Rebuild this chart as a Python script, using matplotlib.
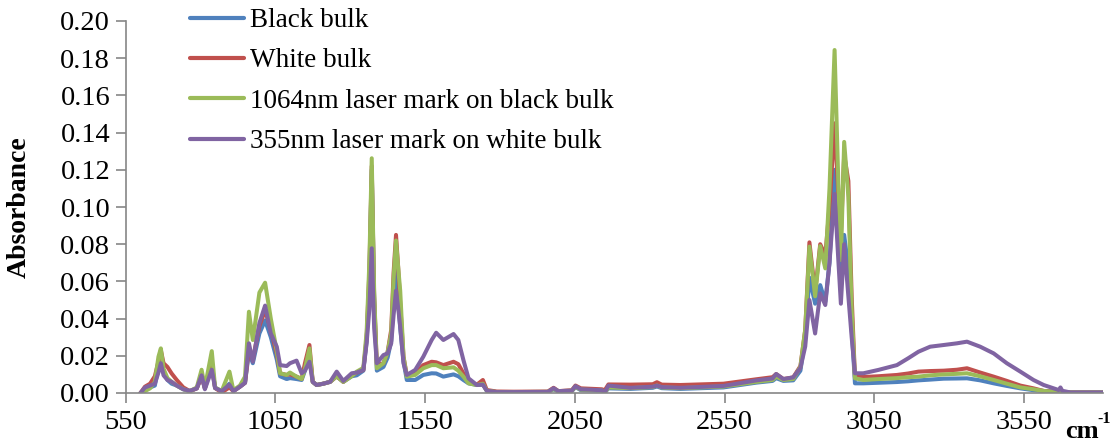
import matplotlib
matplotlib.use("Agg")
import matplotlib.pyplot as plt
from matplotlib.ticker import MultipleLocator, FormatStrFormatter

# FTIR absorbance spectra
wavenumber = [
    600, 615, 632, 648, 660, 668, 677, 690, 704, 721, 743, 765, 788, 804, 815, 838, 849, 871, 897, 910,
    932, 949, 962, 975, 997, 1016, 1035, 1055, 1066, 1088, 1099, 1121, 1138, 1149, 1164, 1175, 1188, 1210,
    1233, 1255, 1277, 1305, 1322, 1344, 1355, 1364, 1372, 1380, 1389, 1411, 1425, 1437, 1445, 1453, 1460,
    1467, 1478, 1489, 1517, 1544, 1572, 1587, 1611, 1645, 1661, 1678, 1695, 1723, 1743, 1756, 1789, 1845,
    1960, 1979, 1995, 2040, 2052, 2070, 2140, 2150, 2162, 2235, 2310, 2324, 2340, 2402, 2546, 2657, 2710,
    2722, 2746, 2779, 2803, 2819, 2833, 2852, 2869, 2886, 2900, 2917, 2930, 2938, 2949, 2963, 2974, 2985,
    3013, 3063, 3125, 3163, 3197, 3236, 3281, 3325, 3359, 3403, 3448, 3492, 3537, 3581, 3615, 3665, 3671,
    3677, 3704, 3813,
]

black_bulk = [
    0, 0.002, 0.003, 0.004, 0.014, 0.022, 0.011, 0.007, 0.005, 0.004, 0.002, 0.001, 0.0025, 0.009, 0.0025,
    0.0155, 0.0027, 0.001, 0.005, 0.001, 0.0034, 0.0055, 0.022, 0.016, 0.032, 0.039, 0.030, 0.018, 0.009,
    0.0075, 0.008, 0.0075, 0.007, 0.012, 0.021, 0.006, 0.0043, 0.005, 0.006, 0.009, 0.006, 0.009, 0.0095,
    0.012, 0.028, 0.060, 0.120, 0.050, 0.012, 0.014, 0.019, 0.028, 0.050, 0.066, 0.050, 0.035, 0.017, 0.007,
    0.007, 0.0097, 0.0106, 0.0105, 0.0088, 0.010, 0.009, 0.007, 0.0052, 0.0043, 0.0045, 0.0012, 0.0005,
    0.0004, 0.0005, 0.002, 0.0008, 0.001, 0.0032, 0.0015, 0.0012, 0.0003, 0.0025, 0.0022, 0.0028, 0.0035,
    0.0026, 0.0022, 0.0030, 0.0056, 0.0065, 0.008, 0.0065, 0.0068, 0.012, 0.030, 0.062, 0.048, 0.058, 0.049,
    0.070, 0.120, 0.085, 0.065, 0.085, 0.067, 0.035, 0.0052,
    0.0052, 0.0055, 0.0059, 0.0063, 0.0068, 0.0072, 0.0077, 0.0078, 0.0079, 0.0068, 0.0052, 0.0038, 0.0025,
    0.0015, 0.0011, 0.0005, 0.0005, 0.0005, 0.0003, 0.0003,
]

white_bulk = [
    0, 0.0034, 0.005, 0.009, 0.017, 0.023, 0.016, 0.014, 0.0105, 0.007, 0.003, 0.001, 0.0025, 0.009, 0.0025,
    0.015, 0.0027, 0.0003, 0.003, 0.001, 0.0034, 0.0055, 0.024, 0.018, 0.036, 0.0445, 0.034, 0.021, 0.0106,
    0.0097, 0.010, 0.0088, 0.0075, 0.016, 0.0258, 0.006, 0.0043, 0.005, 0.006, 0.009, 0.006, 0.0095, 0.011,
    0.0124, 0.030, 0.065, 0.122, 0.052, 0.015, 0.016, 0.022, 0.034, 0.065, 0.085, 0.068, 0.048, 0.0195,
    0.0095, 0.0106, 0.015, 0.0168, 0.0165, 0.015, 0.0168, 0.0155, 0.0106, 0.0055, 0.0045, 0.007, 0.0016,
    0.0008, 0.0007, 0.0008, 0.0028, 0.001, 0.0015, 0.004, 0.0025, 0.002, 0.0015, 0.0046, 0.0045, 0.0047,
    0.0058, 0.0045, 0.0043, 0.005, 0.0074, 0.0085, 0.0102, 0.0075, 0.0084, 0.0145, 0.034, 0.081, 0.054,
    0.080, 0.074, 0.100, 0.145, 0.105, 0.085, 0.128, 0.114, 0.052, 0.0086,
    0.0086, 0.009, 0.0097, 0.0105, 0.0115, 0.0118, 0.012, 0.0125, 0.0133, 0.011, 0.0088, 0.0065, 0.004,
    0.0025, 0.0011, 0.0005, 0.0005, 0.0005, 0.0003, 0.0003,
]

mark_1064_black = [
    0, 0.001, 0.0025, 0.006, 0.0195, 0.024, 0.013, 0.008, 0.006, 0.004, 0.002, 0.001, 0.003, 0.0125, 0.003,
    0.0225, 0.003, 0.001, 0.0115, 0.0015, 0.004, 0.0088, 0.0437, 0.0285, 0.054, 0.0593, 0.040, 0.0225,
    0.0106, 0.0097, 0.011, 0.0088, 0.0075, 0.013, 0.024, 0.006, 0.0043, 0.005, 0.006, 0.009, 0.006, 0.009,
    0.0115, 0.0135, 0.033, 0.070, 0.1262, 0.055, 0.0133, 0.016, 0.022, 0.032, 0.062, 0.082, 0.068, 0.055,
    0.0195, 0.0088, 0.0097, 0.0133, 0.015, 0.015, 0.0133, 0.0138, 0.012, 0.0088, 0.0052, 0.0043, 0.005,
    0.0012, 0.0005, 0.0005, 0.0006, 0.0022, 0.001, 0.0012, 0.0034, 0.0018, 0.0014, 0.0003, 0.003, 0.0026,
    0.0032, 0.004, 0.003, 0.0026, 0.0035, 0.006, 0.007, 0.0088, 0.007, 0.0075, 0.0141, 0.034, 0.0787, 0.052,
    0.079, 0.067, 0.110, 0.1844, 0.110, 0.0715, 0.135, 0.1055, 0.045, 0.0079,
    0.007, 0.0075, 0.008, 0.0085, 0.0088, 0.0095, 0.010, 0.0103, 0.0106, 0.009, 0.007, 0.005, 0.003,
    0.002, 0.0011, 0.0005, 0.0005, 0.0005, 0.0003, 0.0003,
]

mark_355_white = [
    0, 0.003, 0.004, 0.005, 0.011, 0.016, 0.0095, 0.007, 0.006, 0.004, 0.002, 0.0012, 0.0025, 0.0095, 0.002,
    0.0125, 0.0027, 0.001, 0.0045, 0.001, 0.0034, 0.0055, 0.0267, 0.0168, 0.0376, 0.047, 0.032, 0.0249,
    0.015, 0.0145, 0.016, 0.0174, 0.0106, 0.012, 0.0168, 0.006, 0.0043, 0.005, 0.006, 0.0115, 0.0065,
    0.0106, 0.011, 0.0124, 0.027, 0.045, 0.0778, 0.035, 0.016, 0.0204, 0.0213, 0.0267, 0.042, 0.055, 0.046,
    0.0357, 0.016, 0.0097, 0.0124, 0.0195, 0.0285, 0.0324, 0.0285, 0.0317, 0.0285, 0.0177, 0.0079, 0.0043,
    0.0045, 0.0012, 0.0005, 0.0005, 0.0006, 0.0026, 0.001, 0.0013, 0.0037, 0.002, 0.0015, 0.0003, 0.0040,
    0.0028, 0.0034, 0.004, 0.0032, 0.0028, 0.0038, 0.0068, 0.0078, 0.0102, 0.0075, 0.0084, 0.0135, 0.025,
    0.050, 0.032, 0.0536, 0.0473, 0.070, 0.107, 0.070, 0.048, 0.080, 0.052, 0.030, 0.0106,
    0.0106, 0.0124, 0.015, 0.0187, 0.0222, 0.0249, 0.0258, 0.0267, 0.0276, 0.0249, 0.0213, 0.016, 0.0115,
    0.007, 0.0043, 0.0016, 0.003, 0.0012, 0.0003, 0.0003,
]

series = [
    ("Black bulk", black_bulk, "#4F81BD"),
    ("White bulk", white_bulk, "#C0504D"),
    ("1064nm laser mark on black bulk", mark_1064_black, "#9BBB59"),
    ("355nm laser mark on white bulk", mark_355_white, "#8064A2"),
]

x_ticks = [550, 1050, 1550, 2050, 2550, 3050, 3550]

plt.rcParams["font.family"] = ["Liberation Serif", "DejaVu Serif"]

W, H = 1119, 443
fig = plt.figure(figsize=(W / 100, H / 100), dpi=100)
ax_left, ax_right, ax_top, ax_bottom = 125.5, 1103, 21, 393
ax = fig.add_axes([ax_left / W, (H - ax_bottom) / H, (ax_right - ax_left) / W, (ax_bottom - ax_top) / H])

for label, values, color in series:
    ax.plot(wavenumber, values, color=color, lw=2.9, label=label,
            solid_joinstyle="round", solid_capstyle="round")

ax.set_xlim(550, 3813)
ax.set_ylim(0, 0.20)
ax.set_xticks(x_ticks)
ax.yaxis.set_major_locator(MultipleLocator(0.02))
ax.yaxis.set_major_formatter(FormatStrFormatter("%.2f"))

for side in ("top", "right"):
    ax.spines[side].set_visible(False)
for side in ("left", "bottom"):
    ax.spines[side].set_color("#868686")
    ax.spines[side].set_linewidth(1.2)
ax.tick_params(axis="both", direction="out", length=7, width=1.2, color="#868686",
               labelsize=20.5, labelcolor="black", pad=4)
ax.tick_params(axis="x", pad=5)

# y label: right edge of the rotated text sits at x = 32 px
ax.set_ylabel("Absorbance", fontsize=20, fontweight="bold")
ax.yaxis.set_label_coords((32 - ax_left) / (ax_right - ax_left), 0.5)

fig.text(1065 / W, 1 - 438 / H, "cm", fontsize=19, fontweight="bold", ha="left", va="baseline")
fig.text(1097 / W, 1 - 423 / H, "-1", fontsize=11.5, fontweight="bold", ha="left", va="baseline")

leg = ax.legend(loc="upper left", bbox_to_anchor=(190 / W, 1 - 8 / H), bbox_transform=fig.transFigure,
                frameon=False, fontsize=19.5, handlelength=2.0, handletextpad=0.2,
                labelspacing=0.57, borderpad=0, borderaxespad=0)
for line in leg.get_lines():
    line.set_linewidth(3)

fig.savefig("out.png", dpi=100)
